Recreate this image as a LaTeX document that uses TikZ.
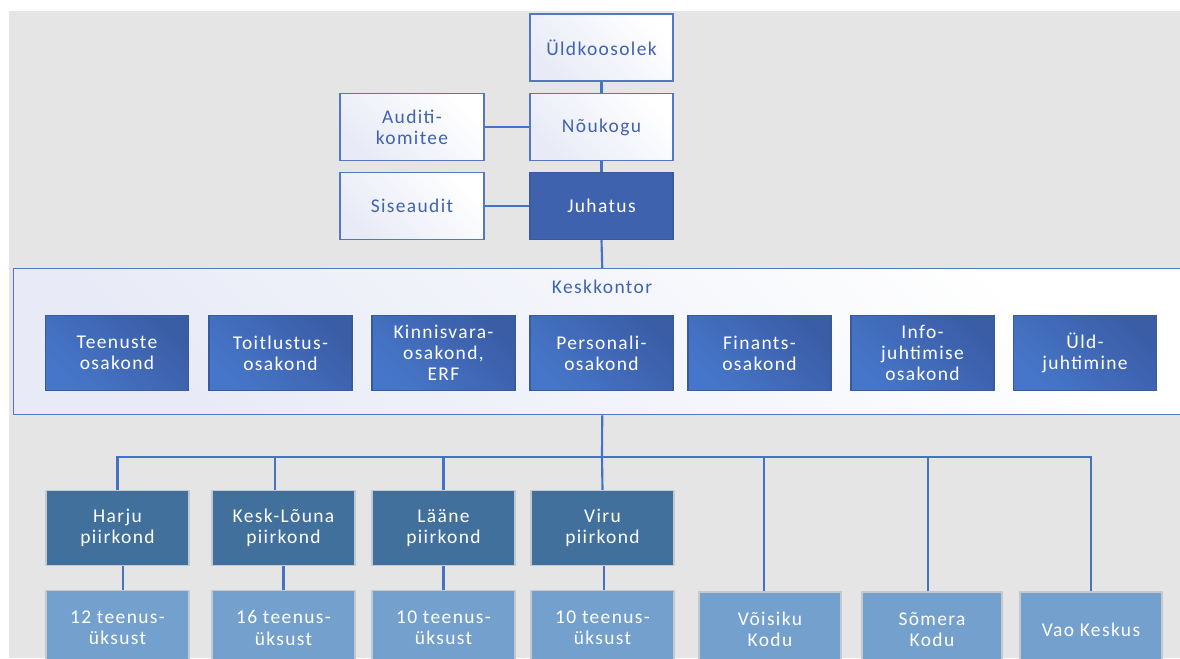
\documentclass[tikz,border=0pt]{standalone}
\usepackage{fontspec}
\setmainfont{Carlito}[LetterSpace=7]
\definecolor{bggray}{HTML}{E5E5E5}
\definecolor{linec}{HTML}{4472C4}
\definecolor{wborder}{HTML}{5676BE}
\definecolor{wtext}{HTML}{3F63B3}
\definecolor{wtop}{HTML}{E8EBF7}
\definecolor{jfill}{HTML}{3F62AE}
\definecolor{dtop}{HTML}{4676C9}
\definecolor{dbot}{HTML}{3B5DA6}
\definecolor{dborder}{HTML}{3A5A9E}
\definecolor{rfill}{HTML}{41709C}
\definecolor{bfill}{HTML}{74A0CE}
\definecolor{gborder}{HTML}{C4C8CF}
\tikzset{
  txt/.style={font=\fontsize{14.6pt}{15.9pt}\selectfont, align=center, inner sep=0pt},
  wbox/.style={txt, draw=wborder, line width=1.1pt, left color=wtop, right color=white, shading angle=135, text=wtext, minimum width=107.25pt, minimum height=50.25pt},
  jbox/.style={txt, draw=dborder, line width=1.1pt, fill=jfill, text=white, minimum width=107.25pt, minimum height=50.25pt},
  dbox/.style={txt, draw=dborder, line width=0.8pt, left color=dtop, right color=dbot, shading angle=135, text=white, minimum width=107.25pt, minimum height=56.25pt},
  rbox/.style={txt, draw=gborder, line width=0.8pt, fill=rfill, text=white, minimum width=107.25pt, minimum height=56.25pt},
  bbox/.style={txt, draw=gborder, line width=0.8pt, fill=bfill, text=white, minimum width=107.25pt, minimum height=56.25pt},
  conn/.style={draw=linec, line width=1.6pt},
}
\begin{document}
\begin{tikzpicture}[x=0.75pt,y=-0.75pt]
\useasboundingbox (0,0) rectangle (1180,658);
\clip (0,0) rectangle (1180,658);
\fill[white] (0,0) rectangle (1180,658);
\fill[bggray] (9,11) rectangle (1180,658);

% Keskkontor container
\node[draw=wborder, line width=1.1pt, left color=wtop, right color=white, shading angle=135,
      minimum width=882.75pt, minimum height=109.5pt, anchor=north west, inner sep=0pt] (kk) at (13,268) {};
\node[txt, text=wtext] (kklabel) at (602,287) {Keskkontor};

\node[wbox] (uld) at (601.5,47.5) {Üldkoosolek};
\node[wbox] (nou) at (601.5,127) {Nõukogu};
\node[jbox] (juh) at (601.5,206) {Juhatus};
\node[wbox, minimum width=108pt] (aud) at (412,127) {Auditi-\\komitee};
\node[wbox, minimum width=108pt] (sis) at (412,206) {Siseaudit};

\draw[conn] (uld.south) -- (nou.north);
\draw[conn] (nou.south) -- (juh.north);
\draw[conn] (aud.east) -- (nou.west);
\draw[conn] (sis.east) -- (juh.west);
\draw[conn] (juh.south) -- (kk.north);

% departments
\node[dbox] (d1) at (117,353) {Teenuste\\osakond};
\node[dbox] (d2) at (280.5,353) {Toitlustus-\\osakond};
\node[dbox] (d3) at (443.5,353) {Kinnisvara-\\osakond,\\ERF};
\node[dbox] (d4) at (601.5,353) {Personali-\\osakond};
\node[dbox] (d5) at (759.5,353) {Finants-\\osakond};
\node[dbox] (d6) at (922.5,353) {Info-\\juhtimise\\osakond};
\node[dbox] (d7) at (1085,353) {Üld-\\juhtimine};

% regions
\node[rbox] (harju) at (117.5,528) {Harju\\piirkond};
\node[rbox] (kl) at (283.5,528) {Kesk-Lõuna\\piirkond};
\node[rbox] (laane) at (443.5,528) {Lääne\\piirkond};
\node[rbox] (viru) at (602.5,528) {Viru\\piirkond};

% bottom row
\node[bbox] (u1) at (117.5,628) {12 teenus-\\üksust};
\node[bbox] (u2) at (283.5,628) {16 teenus-\\üksust};
\node[bbox] (u3) at (443.5,628) {10 teenus-\\üksust};
\node[bbox] (u4) at (602.5,628) {10 teenus-\\üksust};
\node[bbox, minimum width=106.5pt] (vo) at (770,629.5) {Võisiku\\Kodu};
\node[bbox, minimum width=105pt] (so) at (932,629.5) {Sõmera\\Kodu};
\node[bbox, minimum width=106.5pt] (vao) at (1091,629.5) {Vao Keskus};

\coordinate (bus) at (602,457);
\draw[conn] (kk.south) -- (bus);
\draw[conn] (harju.north) |- (bus) -| (vao.north);
\draw[conn] ([xshift=-6.4pt]kl.north) |- (bus);
\draw[conn] (laane.north) |- (bus);
\draw[conn] (viru.north) -- (bus);
\draw[conn] ([xshift=-4.5pt]vo.north) |- (bus);
\draw[conn] ([xshift=-3pt]so.north) |- (bus);

\draw[conn] ([xshift=4.1pt]harju.south) -- ([xshift=4.1pt]u1.north);
\draw[conn] (kl.south) -- (u2.north);
\draw[conn] (laane.south) -- (u3.north);
\draw[conn] ([xshift=1.1pt]viru.south) -- ([xshift=1.1pt]u4.north);
\end{tikzpicture}
\end{document}
